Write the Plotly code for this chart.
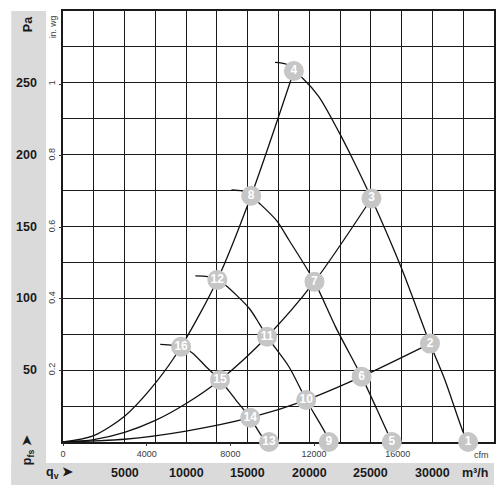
import plotly.graph_objects as go

# ---- data (m3/h, Pa) ----
point_ids = [str(i) for i in range(1, 17)]
point_q = [32900, 29800, 25050, 18750, 26700, 24250, 20420, 15280,
           21580, 19750, 16570, 12530, 16730, 15200, 12750, 9590]
point_p = [0, 68.5, 169.5, 258.2, 0, 45.5, 111.6, 171.4,
           0, 29.2, 73.3, 112.8, 0, 16.9, 43.2, 66.3]

# fan characteristic curves
fan1_q = [17217, 18106, 18750, 19424, 20773, 22389, 23602, 25050, 27482, 29800, 31014, 32493, 32900]
fan1_p = [264.3, 263.1, 258.2, 253.6, 240.4, 216.0, 195.6, 169.5, 121.1, 68.5, 43.2, 7.0, 0]
fan2_q = [13684, 14574, 15280, 15924, 17378, 18348, 20420, 22123, 24250, 25500, 26700]
fan2_p = [175.4, 174.7, 171.4, 166.4, 153.8, 140.6, 111.6, 80.3, 45.5, 22.6, 0]
fan3_q = [10750, 11745, 12530, 13176, 15115, 15924, 16570, 18348, 19750, 21315, 21580]
fan3_p = [115.6, 115.1, 112.8, 109.3, 93.1, 82.6, 73.3, 52.4, 29.2, 6.1, 0]
fan4_q = [7897, 8916, 9590, 10508, 11640, 12750, 14040, 15200, 16190, 16730]
fan4_p = [68.0, 67.3, 66.3, 62.0, 52.2, 43.2, 29.2, 16.9, 3.7, 0]

# system (resistance) curves
sysA_q = [0, 2500, 5000, 7500, 9590, 12530, 15280, 18750]
sysA_p = [0, 4.5, 18, 41, 66.3, 112.8, 171.4, 258.2]
sysB_q = [0, 2500, 5000, 7500, 10000, 12750, 16570, 20420, 25050]
sysB_p = [0, 1.7, 6.7, 15, 26.8, 43.2, 73.3, 111.6, 169.5]
sysC_q = [0, 5000, 10000, 15200, 19750, 24250, 29800]
sysC_p = [0, 1.9, 7.6, 16.9, 29.2, 45.5, 68.5]

# axis labels
pa_ticks = [50, 100, 150, 200, 250]
q_ticks = [5000, 10000, 15000, 20000, 25000, 30000]
inwg_ticks = [0.2, 0.4, 0.6, 0.8, 1.0]
inwg_text = ["0.2", "0.4", "0.6", "0.8", "1"]
cfm_ticks = [0, 4000, 8000, 12000, 16000]
CFM_TO_M3H = 1.699
PA_PER_INWG = 249.09
Q_MAX = 35000
P_MAX = 300

# ---- geometry ----
W, H = 500, 500
L, R, T, B = 63, 496, 11, 442
pw, ph = R - L, B - T
def px_x(px):
    return (px - L) / pw
def px_y(py):
    return (B - py) / ph

FONT = "Liberation Sans, Arial, sans-serif"
INK = "#1a1a1a"
GREY_TXT = "#3a3a3a"

fig = go.Figure()

# invisible trace to activate the secondary (cfm / in. wg) axes
fig.add_trace(go.Scatter(x=[0], y=[0], xaxis="x2", yaxis="y2", mode="markers",
                         marker=dict(opacity=0), showlegend=False, hoverinfo="skip"))

line_style = dict(color="#111111", width=1.3, shape="spline", smoothing=0.8)
for qs, ps in [(sysA_q, sysA_p), (sysB_q, sysB_p), (sysC_q, sysC_p),
               (fan1_q, fan1_p), (fan2_q, fan2_p), (fan3_q, fan3_p), (fan4_q, fan4_p)]:
    fig.add_trace(go.Scatter(x=qs, y=ps, mode="lines", line=line_style,
                             hoverinfo="skip", showlegend=False))

# operating point markers
fig.add_trace(go.Scatter(
    x=point_q, y=point_p, mode="markers+text", text=point_ids,
    marker=dict(size=20, color="#c6c6c6", line=dict(width=0)),
    textposition="middle center",
    textfont=dict(family=FONT, size=12, color="white", weight="bold"),
    cliponaxis=False, showlegend=False, hoverinfo="skip"))

shapes = [
    dict(type="rect", xref="paper", yref="paper", x0=px_x(11), x1=px_x(46),
         y0=px_y(485), y1=px_y(11), fillcolor="#dadada", line=dict(width=0), layer="below"),
    dict(type="rect", xref="paper", yref="paper", x0=px_x(11), x1=px_x(496),
         y0=px_y(485), y1=px_y(463), fillcolor="#dadada", line=dict(width=0), layer="below"),
]

def A(x, xref, y, yref, text, size=12.5, color=INK, bold=True, angle=0, xanchor="center"):
    f = dict(family=FONT, size=size, color=color)
    if bold:
        f["weight"] = "bold"
    return dict(x=x, xref=xref, y=y, yref=yref, text=text, textangle=angle,
                xanchor=xanchor, yanchor="middle", showarrow=False, font=f)

ann = []
for v in pa_ticks:
    ann.append(A(px_x(38.5), "paper", v, "y", str(v), xanchor="right"))
for v in q_ticks:
    ann.append(A(v, "x", px_y(473), "paper", str(v)))
ann += [
    A(px_x(477), "paper", px_y(473), "paper", "m³/h"),
    A(px_x(59), "paper", px_y(473), "paper", "q<sub>v</sub> ➤"),
    A(px_x(28), "paper", px_y(24), "paper", "Pa", angle=-90),
    A(px_x(28), "paper", px_y(450), "paper", "p<sub>fs</sub> ➤", angle=-90),
    A(px_x(53), "paper", px_y(27), "paper", "in. wg", size=8.5, color=GREY_TXT, bold=False, angle=-90),
    A(px_x(483), "paper", px_y(455), "paper", "cfm", size=9, color=GREY_TXT, bold=False),
]

grid = dict(showgrid=True, gridcolor=INK, gridwidth=1.3, showline=True, mirror=True,
            linecolor=INK, linewidth=1.5, zeroline=False, showticklabels=False, ticks="",
            layer="below traces")
fig.update_layout(
    width=W, height=H, margin=dict(l=L, r=W - R, t=T, b=H - B),
    paper_bgcolor="white", plot_bgcolor="white",
    xaxis=dict(range=[0, Q_MAX], tick0=0, dtick=2500, **grid),
    yaxis=dict(range=[0, P_MAX], tick0=0, dtick=25, **grid),
    xaxis2=dict(overlaying="x", side="bottom", range=[0, Q_MAX / CFM_TO_M3H],
                tickvals=cfm_ticks, ticktext=[str(c) for c in cfm_ticks],
                ticks="outside", ticklen=3, tickcolor=GREY_TXT,
                tickfont=dict(family=FONT, size=9, color=GREY_TXT),
                showticklabels=True, showgrid=False, zeroline=False, showline=False,
                layer="below traces"),
    yaxis2=dict(overlaying="y", side="left", range=[0, P_MAX / PA_PER_INWG],
                tickvals=inwg_ticks, ticktext=inwg_text, tickangle=-90,
                ticks="outside", ticklen=3, tickcolor=GREY_TXT,
                tickfont=dict(family=FONT, size=9, color=GREY_TXT),
                showgrid=False, zeroline=False, showline=False, layer="below traces"),
    shapes=shapes, annotations=ann, showlegend=False,
)

fig.write_html("out.html")
